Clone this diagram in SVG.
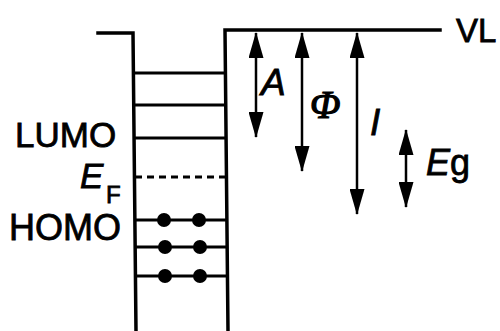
<svg xmlns="http://www.w3.org/2000/svg" width="500" height="331" viewBox="0 0 500 331">
<style>
.ln{stroke:#000;stroke-width:3.5;fill:none;stroke-linecap:square}
.lv{stroke:#000;stroke-width:3;fill:none}
.ar{stroke:#000;stroke-width:2.5;fill:none;marker-start:url(#ah);marker-end:url(#ah)}
.t{font-family:"Liberation Sans",Arial,sans-serif;fill:#000;stroke:#000;stroke-width:0.8}
.i{font-style:italic}
</style>
<defs>
<marker id="ah" viewBox="0 0 26 15" refX="25" refY="7.5" markerWidth="26" markerHeight="15" markerUnits="userSpaceOnUse" orient="auto-start-reverse">
<path d="M0,0 L26,7.5 L0,15 z" fill="#000"/>
</marker>
</defs>
<g id="well">
<polyline class="ln" points="98,33 133,33 136,331"/>
<polyline class="ln" points="228,331 225,30 440,30"/>
</g>
<g id="levels">
<line class="lv" x1="134" y1="73" x2="225" y2="73"/>
<line class="lv" x1="134" y1="105" x2="226" y2="105"/>
<line class="lv" x1="134" y1="138" x2="226" y2="138"/>
<line class="lv" x1="135" y1="177" x2="226" y2="177" stroke-dasharray="7,5"/>
<line class="lv" x1="135" y1="220" x2="227" y2="220"/>
<line class="lv" x1="135" y1="247" x2="227" y2="247"/>
<line class="lv" x1="136" y1="276" x2="227" y2="276"/>
</g>
<g id="electrons" fill="#000">
<circle cx="164" cy="220" r="7"/><circle cx="199" cy="220" r="7"/>
<circle cx="165" cy="247" r="7"/><circle cx="200" cy="247" r="7"/>
<circle cx="165" cy="276" r="7"/><circle cx="200" cy="276" r="7"/>
</g>
<g id="connectors">
<line class="ar" x1="256" y1="33" x2="256" y2="137"/>
<line class="ar" x1="302" y1="33" x2="302" y2="171"/>
<line class="ar" x1="357" y1="33" x2="357" y2="214"/>
<line class="ar" x1="406" y1="130" x2="406" y2="207"/>
</g>
<g id="labels">
<text class="t" x="456" y="42" font-size="33">VL</text>
<text class="t" x="15" y="147" font-size="35">LUMO</text>
<text class="t" x="9" y="240" font-size="36">HOMO</text>
<text class="t" x="80" y="188" font-size="35"><tspan class="i">E</tspan><tspan x="106" y="203" font-size="24">F</tspan></text>
<text class="t i" x="261" y="95" font-size="37">A</text>
<text x="310" y="118" font-size="40" font-family="'Liberation Serif','Times New Roman',serif" font-style="italic" fill="#000" stroke="#000" stroke-width="1.2">Φ</text>
<text class="t i" x="370" y="135" font-size="37">I</text>
<text class="t" x="426" y="175" font-size="36"><tspan class="i">E</tspan>g</text>
</g>
</svg>
